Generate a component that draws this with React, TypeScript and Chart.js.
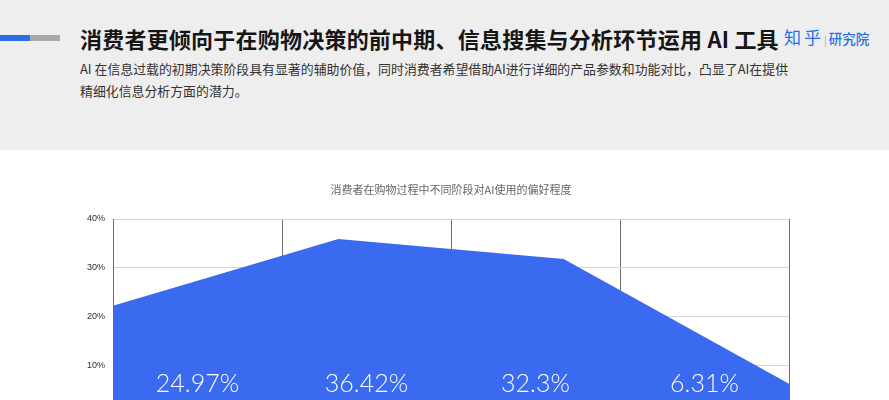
import React, { useEffect, useRef } from "react";
import { Chart, registerables } from "chart.js";

Chart.register(...registerables);

// ---- data ----
const categories = ["信息搜集阶段", "分析对比阶段", "购买决策阶段", "购后评价阶段"];
const areaValues = [22.2, 35.9, 31.8, 6.2];
const labelValues = [24.97, 36.42, 32.3, 6.31];
const yMin = 0;
const yMax = 40;
const yStep = 10;

const pageTitle = "消费者更倾向于在购物决策的前中期、信息搜集与分析环节运用 AI 工具";
const subLine1 =
  "AI 在信息过载的初期决策阶段具有显著的辅助价值，同时消费者希望借助AI进行详细的产品参数和功能对比，凸显了AI在提供";
const subLine2 = "精细化信息分析方面的潜力。";
const chartTitle = "消费者在购物过程中不同阶段对AI使用的偏好程度";

const CJK = '"Noto Sans CJK SC", "Noto Sans", sans-serif';

const overlayPlugin = {
  id: "overlay",
  afterDraw(chart: any) {
    const { ctx, chartArea, scales } = chart;
    ctx.save();
    // chart title
    ctx.fillStyle = "#666666";
    ctx.font = `11px ${CJK}`;
    ctx.textAlign = "center";
    ctx.textBaseline = "middle";
    ctx.fillText(chartTitle, (chartArea.left + chartArea.right) / 2, 40);
    // big value labels
    ctx.fillStyle = "#ffffff";
    ctx.font = `300 25px Lato, "Liberation Sans", sans-serif`;
    labelValues.forEach((v, i) => {
      const x = scales.x.getPixelForValue(i);
      ctx.fillText(`${v}%`, x, chartArea.bottom - 30);
    });
    ctx.restore();
  },
};

function AreaChart() {
  const ref = useRef<HTMLCanvasElement | null>(null);
  useEffect(() => {
    if (!ref.current) return;
    const chart = new Chart(ref.current, {
      type: "line",
      data: {
        labels: categories,
        datasets: [
          {
            data: areaValues,
            xAxisID: "x2",
            fill: "origin",
            backgroundColor: "#3a6af0",
            borderWidth: 0,
            pointRadius: 0,
            tension: 0,
          },
        ],
      },
      options: {
        animation: false,
        responsive: false,
        layout: { padding: { left: 80, right: 100, top: 69, bottom: 6 } },
        plugins: {
          legend: { display: false },
          title: { display: false },
          tooltip: { enabled: false },
        },
        scales: {
          x: {
            type: "category",
            offset: true,
            z: 1,
            grid: { offset: true, color: "#6f6f6f", lineWidth: 1, drawTicks: false },
            border: { display: false },
            ticks: { color: "#333", font: { size: 10, family: CJK }, padding: 8 },
            afterFit: (s: any) => {
              s.height = 30;
            },
          },
          x2: {
            type: "category",
            offset: false,
            display: false,
          },
          y: {
            min: yMin,
            max: yMax,
            grid: { color: "#d4d4d4", drawTicks: false },
            border: { display: true, color: "#6f6f6f" },
            ticks: {
              stepSize: yStep,
              padding: 8,
              color: "#2a2a2a",
              font: { size: 9, family: '"Liberation Sans", Arial, sans-serif' },
              callback: (v: any) => `${v}%`,
            },
            afterFit: (s: any) => {
              s.width = 33;
            },
          },
        },
      },
      plugins: [overlayPlugin],
    } as any);
    return () => chart.destroy();
  }, []);
  return <canvas ref={ref} width={889} height={300} style={{ display: "block" }} />;
}

export default function App() {
  return (
    <div
      style={{
        position: "fixed",
        left: 0,
        top: 0,
        width: 889,
        height: 400,
        overflow: "hidden",
        background: "#ffffff",
        fontFamily: CJK,
      }}
    >
      <div style={{ position: "absolute", left: 0, top: 0, width: 889, height: 150, background: "#eeeeee" }}>
        <div style={{ position: "absolute", left: 0, top: 35, width: 30, height: 6, background: "#2c6fe4" }} />
        <div style={{ position: "absolute", left: 30, top: 35, width: 30, height: 6, background: "#a9a9a9" }} />
        <div
          style={{
            position: "absolute",
            left: 80,
            top: 23,
            fontSize: 22,
            fontWeight: 700,
            color: "#161616",
            lineHeight: "30px",
            letterSpacing: "0.22px",
            whiteSpace: "nowrap",
          }}
        >
          {pageTitle}
        </div>
        <div
          style={{
            position: "absolute",
            left: 784,
            top: 25,
            color: "#2470ea",
            whiteSpace: "nowrap",
            lineHeight: "24px",
          }}
        >
          <span style={{ fontSize: 17, fontWeight: 400, letterSpacing: "3px" }}>知乎</span>
          <span style={{ fontSize: 10, color: "#9aa7b8", marginRight: 2 }}>|</span>
          <span style={{ fontSize: 13.5, fontWeight: 500 }}>研究院</span>
        </div>
        <div
          style={{
            position: "absolute",
            left: 80,
            top: 58,
            fontSize: 12.9,
            color: "#333333",
            lineHeight: "22px",
            whiteSpace: "nowrap",
          }}
        >
          {subLine1}
          <br />
          {subLine2}
        </div>
      </div>
      <div style={{ position: "absolute", left: 0, top: 150 }}>
        <AreaChart />
      </div>
    </div>
  );
}
